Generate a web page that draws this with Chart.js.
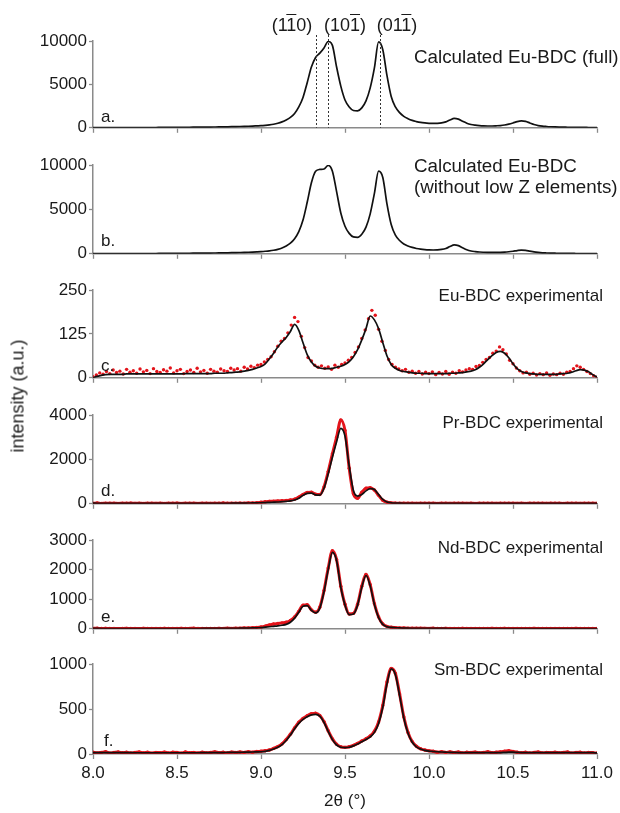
<!DOCTYPE html>
<html lang="en">
<head>
<meta charset="utf-8"/>
<title>XRD patterns</title>
<script src="https://cdn.jsdelivr.net/npm/chart.js"></script>
<style>
    body { margin: 0; background: #fff; }
    #wrap { position: relative; width: 620px; height: 813px; overflow: hidden;
            font-family: "Liberation Sans", Arial, sans-serif; color: #1a1a1a; }
    canvas { position: absolute; left: 0; }
    .lbl { position: absolute; font-size: 17px; line-height: 20px; white-space: nowrap; }
    .calc { font-size: 18.8px; }
    .hkl { position: absolute; font-size: 18px; line-height: 20px; white-space: nowrap; transform: translateX(-50%); }
    .ob { text-decoration: overline; }
    #ytitle { position: absolute; left: 18px; top: 396px; font-size: 18px; white-space: nowrap;
              transform: translate(-50%, -50%) rotate(-90deg); }
</style>
</head>
<body>
<div id="wrap">
    <div class="hkl" style="left:292px; top:15px">(1<span class="ob">1</span>0)</div>
    <div class="hkl" style="left:345px; top:15px">(10<span class="ob">1</span>)</div>
    <div class="hkl" style="left:397px; top:15px">(01<span class="ob">1</span>)</div>

    <div class="lbl calc" style="left:414px; top:47px">Calculated Eu-BDC (full)</div>
    <div class="lbl calc" style="left:414px; top:156px">Calculated Eu-BDC</div>
    <div class="lbl calc" style="left:414px; top:177px">(without low Z elements)</div>
    <div class="lbl" style="right:17px; top:286px">Eu-BDC experimental</div>
    <div class="lbl" style="right:17px; top:413px">Pr-BDC experimental</div>
    <div class="lbl" style="right:17px; top:538px">Nd-BDC experimental</div>
    <div class="lbl" style="right:17px; top:660px">Sm-BDC experimental</div>

    <div class="lbl" style="left:101px; top:107px">a.</div>
    <div class="lbl" style="left:101px; top:231px">b.</div>
    <div class="lbl" style="left:101px; top:356px">c.</div>
    <div class="lbl" style="left:101px; top:481px">d.</div>
    <div class="lbl" style="left:101px; top:607px">e.</div>
    <div class="lbl" style="left:104px; top:731px">f.</div>

    <div id="ytitle">intensity (a.u.)</div>
</div>
<script>
    // 2theta grid of the calculated / fitted curves (step 0.025) and of the Eu data (step 0.02)
    var twoTheta = Array.from({length: 121}, function (_, i) { return +(8 + i * 0.025).toFixed(3); });
    var twoThetaEu = Array.from({length: 151}, function (_, i) { return +(8 + i * 0.02).toFixed(2); });

    // hkl reflections marked in panel a
    var hklPos = [9.33, 9.40, 9.71];

    var fullCalc = [
        10,10,12,12,14,15,16,18,20,22,
        24,26,28,30,33,36,40,44,48,53,
        58,60,63,66,70,74,78,83,88,94,
        100,107,115,124,135,148,163,180,200,225,
        250,290,340,410,520,680,900,1200,1650,2400,
        3500,5200,7000,8100,8600,9200,9950,9500,7000,4800,
        3200,2400,2000,1950,2300,3100,4600,6900,9900,9000,
        6000,3600,2400,1750,1320,1050,850,720,620,560,
        520,500,510,560,680,900,1080,1000,760,530,
        380,300,250,220,210,210,230,260,320,420,
        560,720,800,740,560,380,260,190,150,120,
        100,85,75,65,55,50,45,40,35,30,
        25];

    var noLowZCalc = [
        10,10,11,12,13,14,15,17,19,21,
        23,25,27,29,32,35,38,42,46,50,
        55,58,61,64,68,72,76,81,86,92,
        98,105,113,122,133,146,160,177,197,222,
        250,285,330,400,500,650,880,1200,1700,2500,
        3800,5800,8000,9300,9500,9550,9950,9300,7000,4600,
        3100,2300,1900,1850,2200,3000,4500,6800,9300,8600,
        5600,3300,2100,1500,1100,880,720,600,520,470,
        440,430,440,490,600,820,1000,920,680,460,
        320,250,200,175,160,155,160,170,190,230,
        290,360,410,390,300,210,150,110,90,75,
        65,55,50,45,40,36,33,30,28,26,
        25];

    var euFit = [
        0,4,7,9,10,10,10,10,11,11,
        11,11,11,11,11,11,11,11,11,11,
        11,11,12,12,12,12,12,12,12,13,
        13,13,14,15,16,17,19,21,24,28,
        32,40,54,70,88,102,115,132,152,135,
        100,66,45,33,28,26,26,27,30,33,
        38,46,60,80,108,140,176,165,140,100,
        62,38,27,21,18,16,14,13,13,12,
        12,12,12,12,12,13,13,14,15,17,
        19,23,30,40,52,63,72,75,70,57,
        40,26,18,14,12,11,10,10,10,10,
        10,11,12,13,16,20,23,22,17,9,
        2];

    var euExp = [
        3,8,14,10,18,12,22,15,19,11,
        24,16,20,13,25,17,21,12,26,18,
        15,23,19,28,14,20,24,12,18,22,
        15,27,17,21,13,24,19,16,25,20,
        18,27,22,26,19,30,25,33,29,36,
        38,45,52,60,74,90,104,112,128,150,
        172,160,118,86,58,48,36,30,34,27,
        31,24,36,30,38,42,50,58,72,88,
        112,136,168,192,178,138,104,78,52,38,
        30,25,20,24,16,19,13,18,11,16,
        12,17,9,15,11,18,10,16,13,20,
        17,22,26,24,32,35,44,52,58,70,
        76,88,80,68,50,40,28,20,14,16,
        10,13,8,12,9,14,7,11,9,13,
        10,16,18,26,34,30,24,18,12,6,
        2];

    var prFit = [
        30,25,22,20,20,20,20,20,20,20,
        20,20,20,20,20,20,20,20,20,20,
        20,20,20,20,20,20,20,20,20,22,
        22,24,24,26,28,30,32,35,38,42,
        48,55,65,72,80,95,110,130,170,250,
        380,470,480,400,390,700,1350,2100,2800,3400,
        3050,1700,600,350,420,580,680,640,420,200,
        80,45,30,26,25,25,25,25,25,25,
        25,25,25,25,25,25,25,25,25,25,
        25,25,25,25,25,25,25,25,25,25,
        25,25,25,25,25,25,25,25,25,25,
        25,25,25,24,24,24,23,23,22,22,
        20];

    var prExp = [
        20,35,15,28,22,30,18,26,24,32,
        20,27,16,30,24,21,29,18,25,22,
        31,19,26,23,28,17,30,24,21,27,
        25,33,22,29,26,31,28,36,40,45,
        70,90,110,120,125,135,150,170,210,300,
        420,510,520,430,420,760,1450,2250,3000,3780,
        3300,1600,450,250,520,700,720,620,380,160,
        70,40,32,25,30,22,28,20,26,24,
        22,30,18,27,25,20,29,23,26,21,
        28,19,24,30,22,26,20,27,23,25,
        29,21,26,18,28,24,22,30,20,25,
        27,23,19,28,24,26,21,25,22,27,
        20];

    var ndFit = [
        15,12,10,10,10,10,10,10,10,10,
        10,10,10,10,10,10,10,10,10,10,
        10,10,10,10,10,10,11,11,12,12,
        13,14,15,16,18,20,22,25,29,34,
        40,55,70,85,100,120,150,220,360,560,
        760,780,620,540,700,1250,2000,2580,2300,1400,
        800,480,500,800,1400,1800,1450,820,380,150,
        70,45,35,28,24,20,18,16,15,14,
        13,12,12,11,11,10,10,10,10,10,
        10,10,10,10,10,10,10,10,10,10,
        10,10,10,10,10,10,10,10,10,10,
        10,10,10,10,10,10,10,10,10,10,
        10];

    var ndExp = [
        12,18,8,15,10,14,6,12,16,9,
        13,7,15,11,9,14,10,16,8,12,
        11,15,9,13,17,10,12,8,14,11,
        16,12,18,14,20,22,26,30,36,45,
        60,90,130,160,180,200,220,280,400,590,
        800,810,640,560,730,1290,2050,2640,2340,1440,
        830,500,520,830,1440,1840,1490,850,400,165,
        80,50,40,30,26,22,20,18,17,15,
        14,18,10,12,15,8,13,11,16,9,
        12,14,8,13,10,15,9,12,16,10,
        13,8,14,11,9,15,12,10,13,8,
        14,11,9,13,10,15,8,12,11,9,
        10];

    var smFit = [
        15,15,15,15,15,15,15,15,15,15,
        14,14,14,14,14,14,14,14,14,14,
        14,14,14,14,14,14,15,15,15,15,
        16,16,17,17,18,19,20,21,22,24,
        25,30,40,55,75,105,150,210,280,340,
        385,415,435,440,420,350,250,160,100,75,
        70,75,90,110,135,160,190,240,340,520,
        780,945,880,650,400,230,130,80,55,40,
        32,28,25,22,20,18,17,16,15,15,
        15,15,15,15,15,15,15,16,18,20,
        20,18,16,15,15,15,15,15,15,15,
        15,15,15,15,15,15,15,15,15,15,
        12];

    var smExp = [
        20,12,18,25,10,16,22,14,19,11,
        17,23,13,20,9,18,15,21,12,19,
        16,10,22,14,18,11,20,13,17,24,
        15,19,12,21,16,23,18,25,20,28,
        30,36,44,62,82,112,160,220,290,352,
        395,425,448,452,428,360,258,168,108,80,
        74,80,96,118,144,170,200,252,355,540,
        800,950,895,668,412,240,138,86,58,44,
        35,30,20,26,18,24,15,22,12,19,
        16,21,13,18,25,14,20,24,30,36,
        28,20,14,19,12,17,22,11,18,15,
        20,13,17,22,10,16,19,12,18,14,
        10];

    // panel layout: chart area top / bottom in page pixels
    var panels = [
        {fit: fullCalc,   exp: null,   expX: null,       yMax: 10000, yStep: 5000, top: 41,  bottom: 130, hkl: true},
        {fit: noLowZCalc, exp: null,   expX: null,       yMax: 10000, yStep: 5000, top: 165, bottom: 256},
        {fit: euFit,      exp: euExp,  expX: twoThetaEu, yMax: 250,   yStep: 125,  top: 290, bottom: 380, scatter: true},
        {fit: prFit,      exp: prExp,  expX: twoTheta,   yMax: 4000,  yStep: 2000, top: 415, bottom: 506},
        {fit: ndFit,      exp: ndExp,  expX: twoTheta,   yMax: 3000,  yStep: 1000, top: 540, bottom: 631},
        {fit: smFit,      exp: smExp,  expX: twoTheta,   yMax: 1000,  yStep: 500,  top: 664, bottom: 754}
    ];

    var axisColor = '#8a8a8a';
    var redColor = '#e3141b';
    var tickFont = {family: '"Liberation Sans", Arial, sans-serif', size: 17};

    var hklLines = {
        id: 'hklLines',
        afterDatasetsDraw: function (chart) {
            var ctx = chart.ctx, area = chart.chartArea, xs = chart.scales.x;
            ctx.save();
            ctx.setLineDash([2, 2]);
            ctx.strokeStyle = '#333';
            ctx.lineWidth = 1;
            hklPos.forEach(function (v) {
                var px = Math.round(xs.getPixelForValue(v)) + 0.5;
                ctx.beginPath();
                ctx.moveTo(px, area.top - 6);
                ctx.lineTo(px, area.bottom);
                ctx.stroke();
            });
            ctx.restore();
        }
    };

    var wrap = document.getElementById('wrap');

    panels.forEach(function (p, k) {
        var last = k === panels.length - 1;
        var padTop = 15, below = last ? 59 : 10;
        var cv = document.createElement('canvas');
        cv.width = 620;
        cv.height = p.bottom - p.top + padTop + below;
        cv.style.top = (p.top - padTop) + 'px';
        wrap.insertBefore(cv, wrap.firstChild);

        var datasets = [{
            data: p.fit.map(function (y, i) { return {x: twoTheta[i], y: y}; }),
            borderColor: '#111',
            borderWidth: 1.7,
            pointRadius: 0,
            cubicInterpolationMode: 'monotone'
        }];
        if (p.exp) {
            datasets.push({
                data: p.exp.map(function (y, i) { return {x: p.expX[i], y: y}; }),
                showLine: !p.scatter,
                borderColor: redColor,
                borderWidth: 3,
                cubicInterpolationMode: 'monotone',
                pointRadius: 1.7,
                pointBorderWidth: 0,
                pointBackgroundColor: redColor
            });
        }

        new Chart(cv, {
            type: 'line',
            data: {datasets: datasets},
            plugins: p.hkl ? [hklLines] : [],
            options: {
                responsive: false,
                animation: false,
                devicePixelRatio: 1,
                layout: {padding: {top: padTop, right: 23, left: 0, bottom: 0}},
                plugins: {legend: {display: false}, tooltip: {enabled: false}},
                scales: {
                    x: {
                        type: 'linear', min: 8, max: 11,
                        afterFit: function (s) { s.height = below; },
                        ticks: {
                            display: last, stepSize: 0.5, padding: 4,
                            font: tickFont, color: '#1a1a1a',
                            callback: function (v) { return v.toFixed(1); }
                        },
                        grid: {drawOnChartArea: false, color: axisColor, tickLength: 5, tickWidth: 1.3},
                        border: {color: axisColor, width: 1.5},
                        title: {
                            display: last, text: '2θ (°)', font: tickFont, color: '#1a1a1a',
                            padding: {top: 4, bottom: 1}
                        }
                    },
                    y: {
                        min: 0, max: p.yMax,
                        afterFit: function (s) { s.width = 93; },
                        ticks: {
                            stepSize: p.yStep, padding: 2, font: tickFont, color: '#1a1a1a',
                            callback: function (v) { return String(v); }
                        },
                        grid: {drawOnChartArea: false, color: axisColor, tickLength: 4, tickWidth: 1.3},
                        border: {color: axisColor, width: 1.5}
                    }
                }
            }
        });
    });
</script>
</body>
</html>
